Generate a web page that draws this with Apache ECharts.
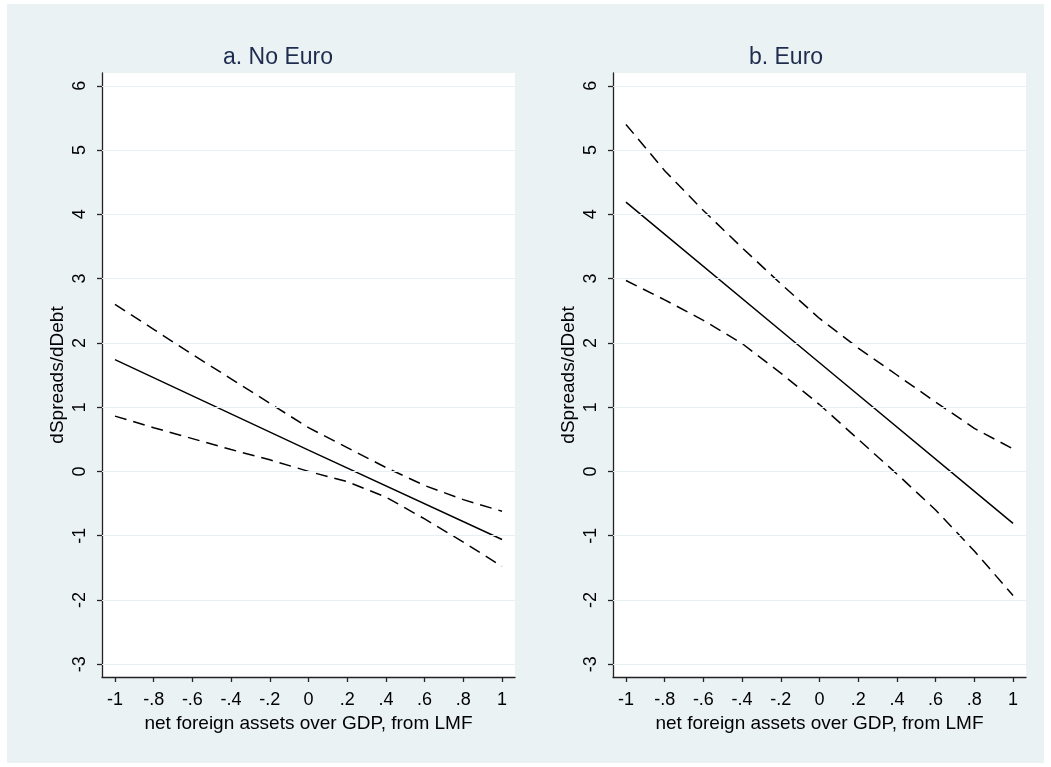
<!DOCTYPE html>
<html>
<head>
<meta charset="utf-8">
<script src="https://cdn.jsdelivr.net/npm/echarts@6/dist/echarts.min.js"></script>
<style>
  html, body { margin: 0; padding: 0; background: #ffffff; }
  #bg { position: absolute; left: 7px; top: 4px; width: 1037px; height: 759px; background: #EAF2F3; }
  #chart { position: absolute; left: 0; top: 0; width: 1051px; height: 767px; }
</style>
</head>
<body>
<div id="bg"></div>
<div id="chart"></div>
<script>
// ---- data ----
const panelTitles = ['a. No Euro', 'b. Euro'];
const xTitle = 'net foreign assets over GDP, from LMF';
const yTitle = 'dSpreads/dDebt';

const xTicks = [-1, -0.8, -0.6, -0.4, -0.2, 0, 0.2, 0.4, 0.6, 0.8, 1];
const xTickLabels = ['-1', '-.8', '-.6', '-.4', '-.2', '0', '.2', '.4', '.6', '.8', '1'];
const yTicks = [-3, -2, -1, 0, 1, 2, 3, 4, 5, 6];
const yTickLabels = ['-3', '-2', '-1', '0', '1', '2', '3', '4', '5', '6'];

// x positions of the confidence-band readings
const bandX = [-1, -0.8, -0.6, -0.4, -0.2, 0, 0.2, 0.4, 0.6, 0.8, 1];
// x positions of the fitted (straight) line readings
const fitX = [-1, 0, 1];

// a. No Euro
const noEuroFit   = [1.74, 0.33, -1.06];
const noEuroUpper = [2.60, 2.21, 1.82, 1.44, 1.06, 0.68, 0.37, 0.06, -0.22, -0.44, -0.62];
const noEuroLower = [0.86, 0.68, 0.51, 0.34, 0.18, 0.00, -0.16, -0.40, -0.74, -1.10, -1.48];

// b. Euro
const euroFit   = [4.19, 1.69, -0.81];
const euroUpper = [5.40, 4.68, 4.06, 3.48, 2.92, 2.38, 1.92, 1.50, 1.08, 0.67, 0.35];
const euroLower = [2.97, 2.67, 2.35, 1.99, 1.53, 1.04, 0.50, -0.04, -0.60, -1.24, -1.93];

// ---- chart ----
const FONT = 'Liberation Sans, Arial, Helvetica, sans-serif';
const pair = (xs, ys) => xs.map((x, i) => [x, ys[i]]);
const lookup = (ticks, labels) => v => {
  for (let i = 0; i < ticks.length; i++) if (Math.abs(ticks[i] - v) < 1e-6) return labels[i];
  return '';
};

const grids = [
  { left: 102, top: 73, width: 413, height: 604 },
  { left: 613, top: 73, width: 413, height: 604 }
];

function xAxisFor(idx) {
  return {
    type: 'value', gridIndex: idx, min: -1.067, max: 1.067,
    axisLine: { show: true, onZero: false, lineStyle: { color: '#222', width: 1.3 } },
    axisTick: { show: true, length: 5, customValues: xTicks, lineStyle: { color: '#222', width: 1.3 } },
    axisLabel: { customValues: xTicks, formatter: lookup(xTicks, xTickLabels), color: '#000',
                 fontSize: 18, fontFamily: FONT, margin: 14 },
    splitLine: { show: false },
    name: xTitle, nameLocation: 'middle', nameGap: 33,
    nameTextStyle: { color: '#000', fontSize: 19, fontFamily: FONT }
  };
}
function yAxisFor(idx) {
  return {
    type: 'value', gridIndex: idx, min: -3.2, max: 6.2,
    axisLine: { show: true, onZero: false, lineStyle: { color: '#222', width: 1.3 } },
    axisTick: { show: true, length: 5, customValues: yTicks, lineStyle: { color: '#222', width: 1.3 } },
    axisLabel: { customValues: yTicks, formatter: lookup(yTicks, yTickLabels), color: '#000',
                 fontSize: 18, fontFamily: FONT, rotate: 90, margin: 13 },
    splitLine: { show: false },
    name: yTitle, nameLocation: 'middle', nameGap: 35, nameRotate: 90,
    nameTextStyle: { color: '#000', fontSize: 19, fontFamily: FONT }
  };
}

function gridLines(idx) {
  return {
    type: 'line', xAxisIndex: idx, yAxisIndex: idx, data: [], z: 1, silent: true,
    markLine: {
      silent: true, symbol: 'none', label: { show: false },
      lineStyle: { color: '#E6EFF1', width: 1.2, type: 'solid' },
      data: yTicks.map(v => ({ yAxis: v }))
    }
  };
}
function lineSeries(idx, data, dashed) {
  return {
    type: 'line', xAxisIndex: idx, yAxisIndex: idx, data: data, showSymbol: false, symbol: 'none',
    z: 3, silent: true,
    lineStyle: { color: '#000', width: 1.5, type: dashed ? [12, 7] : 'solid' }
  };
}

const chart = echarts.init(document.getElementById('chart'), null, { renderer: 'canvas' });
chart.setOption({
  backgroundColor: 'transparent',
  animation: false,
  grid: grids.map(g => Object.assign({ show: true, backgroundColor: '#fff', borderWidth: 0 }, g)),
  xAxis: [xAxisFor(0), xAxisFor(1)],
  yAxis: [yAxisFor(0), yAxisFor(1)],
  graphic: [
    { type: 'text', x: 278, y: 58, style: { text: panelTitles[0], align: 'center', verticalAlign: 'middle',
      font: '23px ' + FONT, fill: '#1E2C4F' } },
    { type: 'text', x: 786, y: 58, style: { text: panelTitles[1], align: 'center', verticalAlign: 'middle',
      font: '23px ' + FONT, fill: '#1E2C4F' } }
  ],
  series: [
    gridLines(0), gridLines(1),
    lineSeries(0, pair(fitX, noEuroFit), false),
    lineSeries(0, pair(bandX, noEuroUpper), true),
    lineSeries(0, pair(bandX, noEuroLower), true),
    lineSeries(1, pair(fitX, euroFit), false),
    lineSeries(1, pair(bandX, euroUpper), true),
    lineSeries(1, pair(bandX, euroLower), true)
  ]
});
</script>
</body>
</html>
